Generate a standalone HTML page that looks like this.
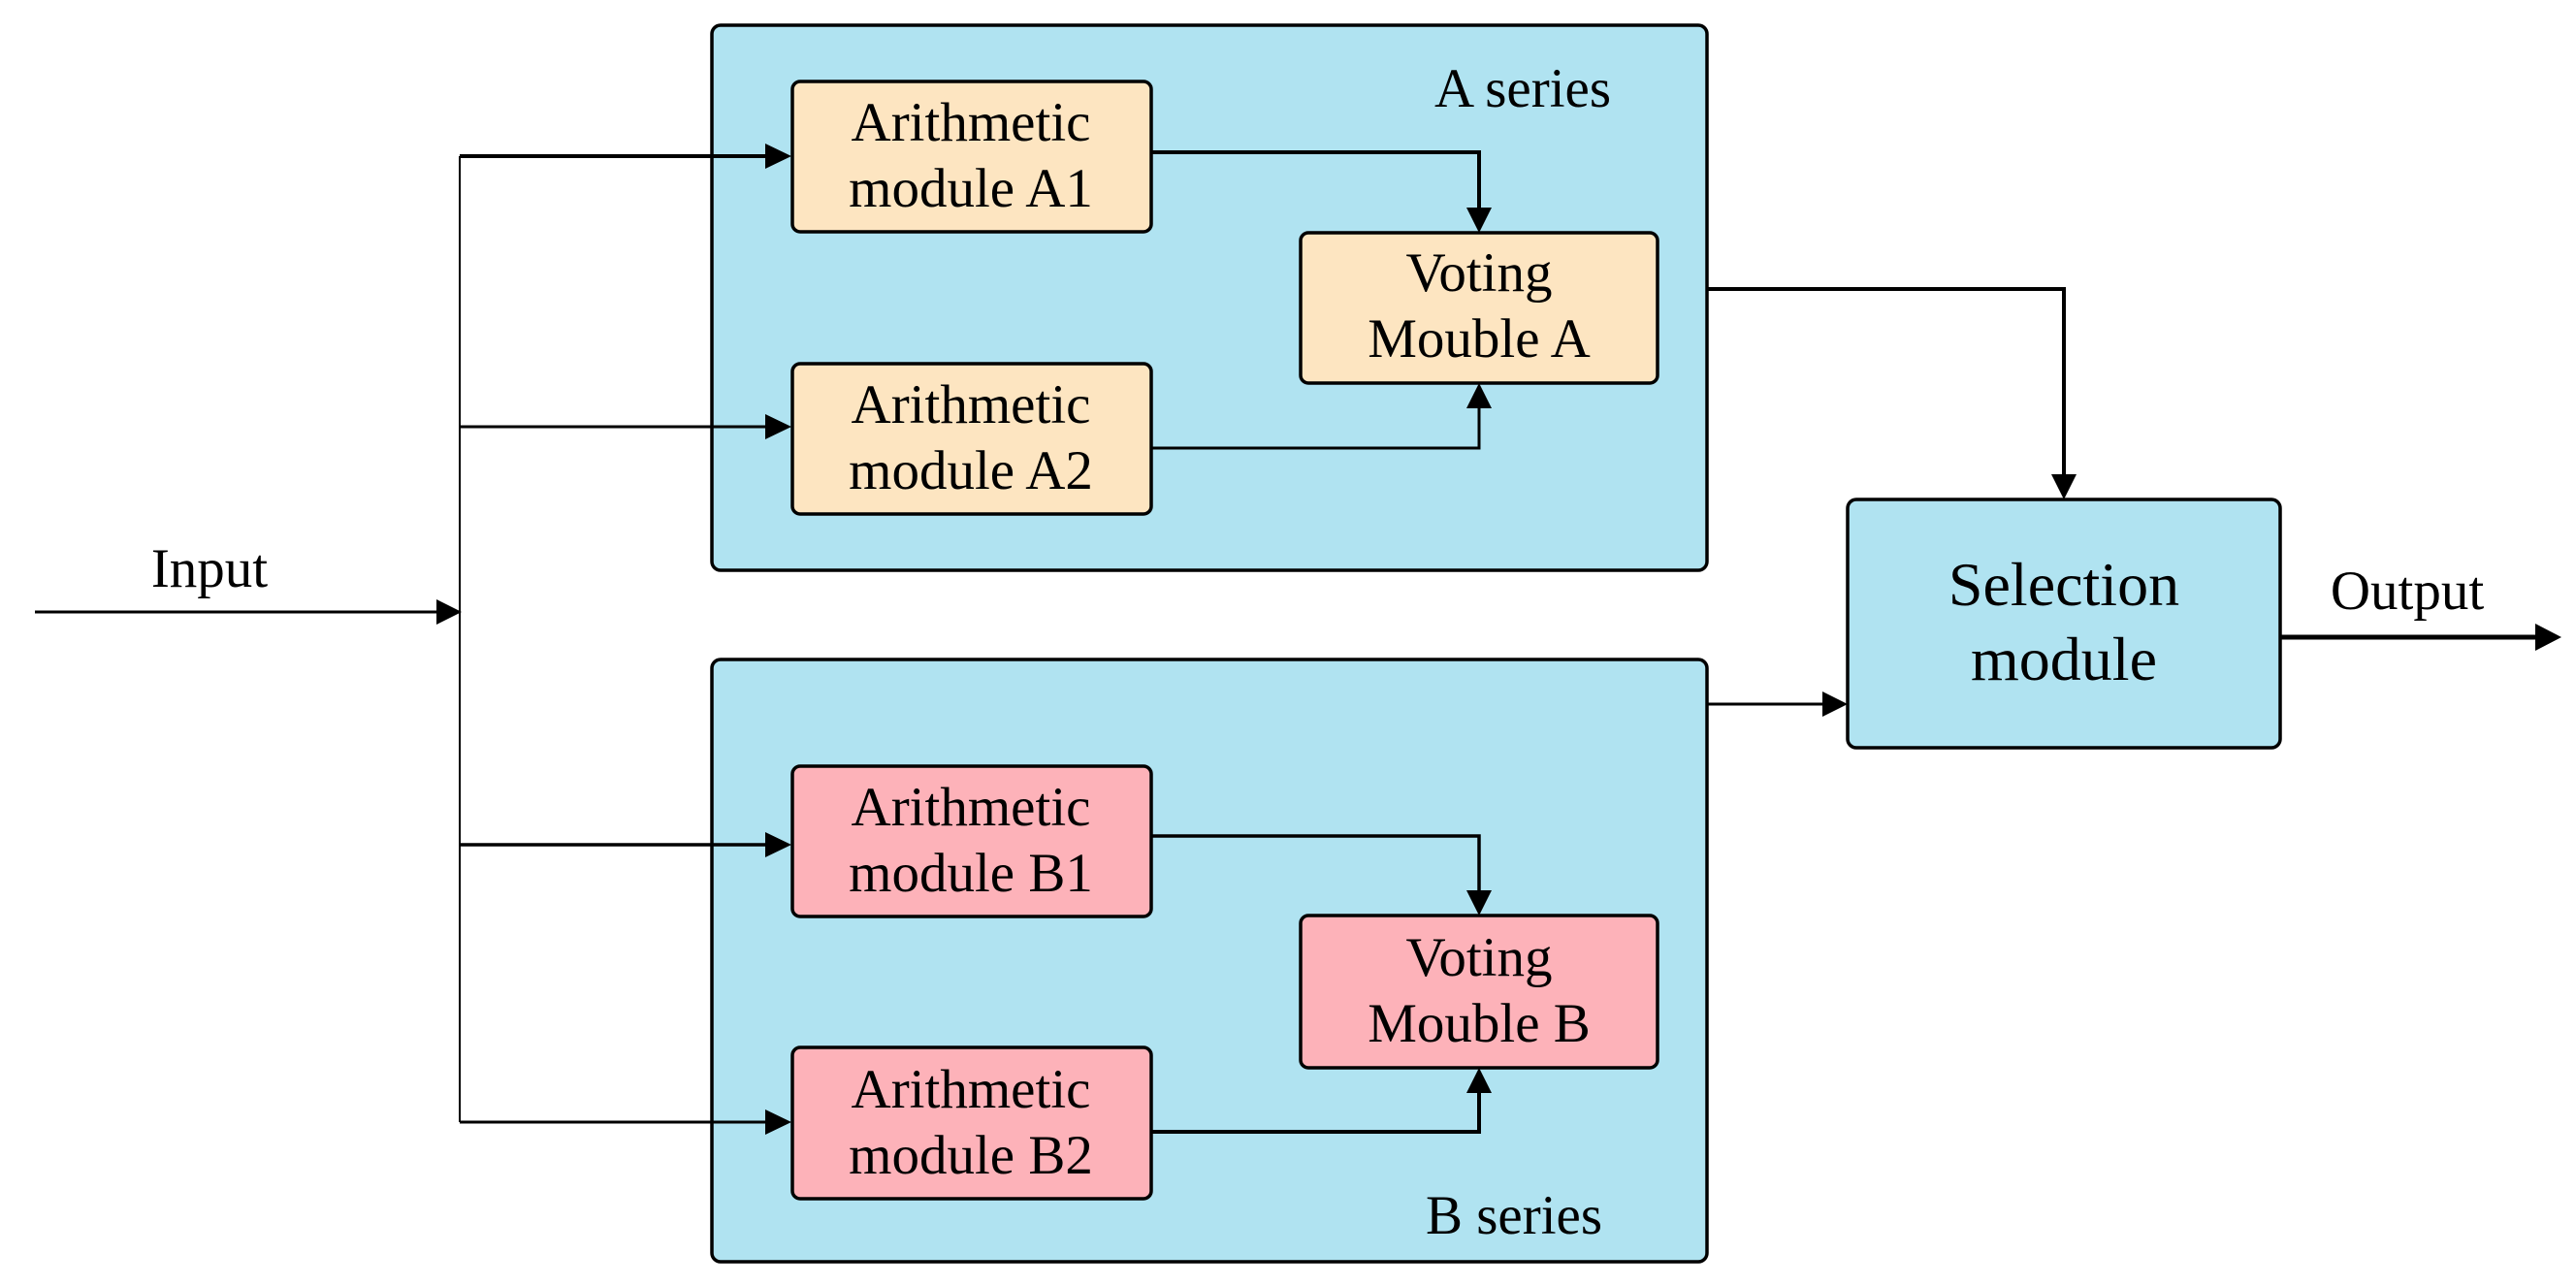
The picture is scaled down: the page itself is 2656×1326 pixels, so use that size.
<!DOCTYPE html>
<html><head><meta charset="utf-8"><style>
html,body{margin:0;padding:0;background:#fff;}
svg{display:block;}
text{font-family:"Liberation Serif",serif;fill:#000;}
</style></head><body>
<svg width="2656" height="1326" viewBox="0 0 2656 1326" xmlns="http://www.w3.org/2000/svg">
<defs>
<marker id="ah" markerWidth="10" markerHeight="10" refX="10" refY="5" orient="auto" markerUnits="userSpaceOnUse" viewBox="0 0 10 10">
</marker>
</defs>
<!-- containers -->
<rect x="734" y="26" width="1026" height="562" rx="9" fill="#b0e3f1" stroke="#000" stroke-width="3.5"/>
<rect x="734" y="680" width="1026" height="621" rx="9" fill="#b0e3f1" stroke="#000" stroke-width="3.5"/>
<rect x="1905" y="515" width="446" height="256" rx="9" fill="#b0e3f1" stroke="#000" stroke-width="3.5"/>
<!-- inner boxes -->
<rect x="817" y="84" width="370" height="155" rx="8" fill="#fde5c1" stroke="#000" stroke-width="3.5"/>
<rect x="817" y="375" width="370" height="155" rx="8" fill="#fde5c1" stroke="#000" stroke-width="3.5"/>
<rect x="1341" y="240" width="368" height="155" rx="8" fill="#fde5c1" stroke="#000" stroke-width="3.5"/>
<rect x="817" y="790" width="370" height="155" rx="8" fill="#fdb2b9" stroke="#000" stroke-width="3.5"/>
<rect x="817" y="1080" width="370" height="156" rx="8" fill="#fdb2b9" stroke="#000" stroke-width="3.5"/>
<rect x="1341" y="944" width="368" height="157" rx="8" fill="#fdb2b9" stroke="#000" stroke-width="3.5"/>
<!-- connectors -->
<g fill="none" stroke="#000" stroke-linejoin="miter">
<path d="M36 631 H450" stroke-width="3"/>
<path d="M474 161 V1157" stroke-width="2"/>
<path d="M474 161 H792" stroke-width="4"/>
<path d="M474 440 H792" stroke-width="3"/>
<path d="M474 871 H792" stroke-width="3.5"/>
<path d="M474 1157 H792" stroke-width="3"/>
<path d="M1187 157 H1525 V216" stroke-width="4"/>
<path d="M1187 462 H1525 V420" stroke-width="3"/>
<path d="M1187 862 H1525 V920" stroke-width="3.5"/>
<path d="M1187 1167 H1525 V1125" stroke-width="4"/>
<path d="M1760 298 H2128 V490" stroke-width="4"/>
<path d="M1760 726 H1880" stroke-width="3"/>
<path d="M2351 657 H2615" stroke-width="5"/>
</g>
<g fill="#000">
<polygon points="450,618 476,631 450,644"/>
<polygon points="789,148 816,161 789,174"/>
<polygon points="789,427 816,440 789,453"/>
<polygon points="789,858 816,871 789,884"/>
<polygon points="789,1144 816,1157 789,1170"/>
<polygon points="1512,214 1538,214 1525,240"/>
<polygon points="1512,421 1538,421 1525,395"/>
<polygon points="1512,918 1538,918 1525,944"/>
<polygon points="1512,1127 1538,1127 1525,1101"/>
<polygon points="2115,489 2141,489 2128,515"/>
<polygon points="1879,713 1905,726 1879,739"/>
<polygon points="2614,643 2641,657 2614,671"/>
</g>
<!-- labels -->
<g font-size="57" text-anchor="middle">
<text x="1001" y="145">Arithmetic</text>
<text x="1001" y="213">module A1</text>
<text x="1001" y="436">Arithmetic</text>
<text x="1001" y="504">module A2</text>
<text x="1001" y="851">Arithmetic</text>
<text x="1001" y="919">module B1</text>
<text x="1001" y="1142">Arithmetic</text>
<text x="1001" y="1210">module B2</text>
<text x="1525" y="300">Voting</text>
<text x="1525" y="368">Mouble A</text>
<text x="1525" y="1006">Voting</text>
<text x="1525" y="1074">Mouble B</text>
<text x="1570" y="110">A series</text>
<text x="1561" y="1272">B series</text>
<text x="216" y="605">Input</text>
<text x="2482" y="628">Output</text>
</g>
<g font-size="64" text-anchor="middle">
<text x="2128" y="624">Selection</text>
<text x="2128" y="701">module</text>
</g>
</svg>
</body></html>
